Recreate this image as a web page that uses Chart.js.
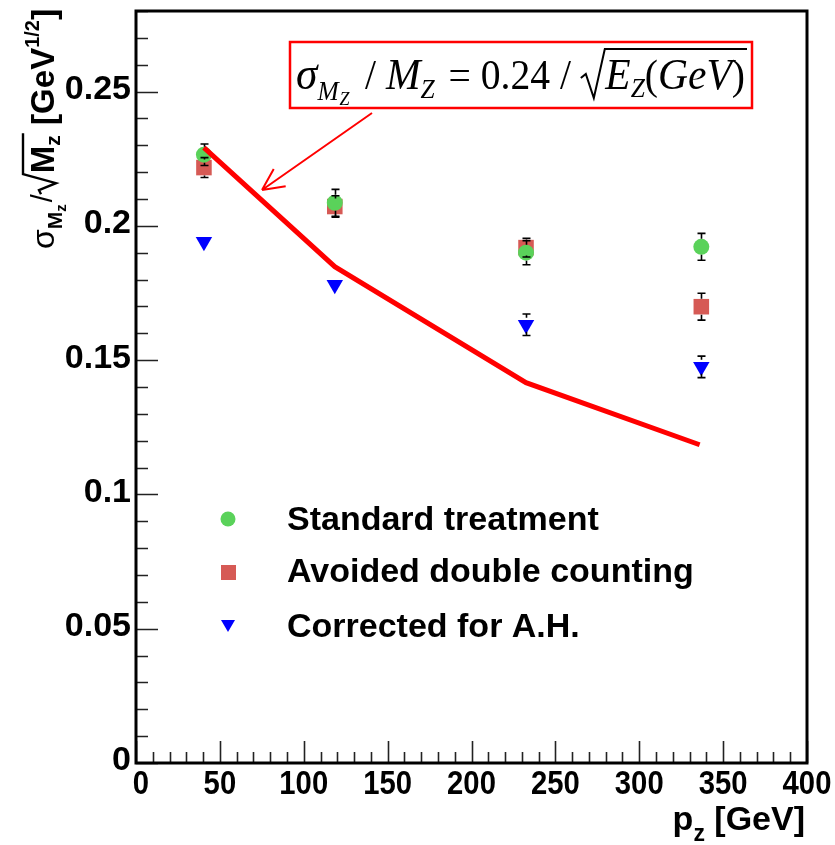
<!DOCTYPE html>
<html>
<head>
<meta charset="utf-8">
<script src="https://cdn.jsdelivr.net/npm/chart.js@4.4.0/dist/chart.umd.min.js"></script>
<style>
  html, body { margin: 0; padding: 0; background: #fff; }
  #wrap { width: 835px; height: 845px; }
</style>
</head>
<body>
<div id="wrap"><canvas id="plot" width="835" height="845"></canvas></div>
<script>
// measured points: mass resolution vs Z momentum
const pz = [40.5, 118.5, 232.5, 337];
const standard = [0.2265, 0.2086, 0.1900, 0.1922];
const standardErr = [0.004, 0.005, 0.0045, 0.005];
const avoided = [0.2217, 0.2072, 0.1919, 0.1699];
const avoidedErr = [0.0037, 0.004, 0.0035, 0.005];
const corrected = [0.1941, 0.1781, 0.1632, 0.1475];
const correctedErr = [0.002, 0.002, 0.004, 0.004];

// expected resolution curve
const curvePz = [40.5, 118.5, 232.5, 336];
const curveRes = [0.2291, 0.1848, 0.1416, 0.1185];

const xTicks = [0, 50, 100, 150, 200, 250, 300, 350, 400];
const yTicks = [0, 0.05, 0.1, 0.15, 0.2, 0.25];
const yTickLabels = ["0", "0.05", "0.1", "0.15", "0.2", "0.25"];
const seriesNames = ["Standard treatment", "Avoided double counting", "Corrected for A.H."];

const GREEN = "#5ad25a";
const RED = "#d65a55";
const BLUE = "#0000ff";
const SANS = "'Liberation Sans', Arial, sans-serif";
const SERIF = "'Liberation Serif', 'Times New Roman', serif";

const pts = (xs, ys) => xs.map((x, i) => ({ x, y: ys[i] }));

const errorSets = [
  { values: standard, errs: standardErr, gap: 8 },
  { values: avoided, errs: avoidedErr, gap: 8 },
  { values: corrected, errs: correctedErr, gap: 7 }
];

// ROOT-like frame with inward ticks, labels and titles
const framePlugin = {
  id: "frame",
  afterDraw(chart) {
    const { ctx, chartArea: a, scales: { x, y } } = chart;
    ctx.save();

    // ticks
    ctx.strokeStyle = "#222";
    ctx.lineWidth = 1.6;
    ctx.beginPath();
    for (let v = 0; v <= 400; v += 10) {
      const px = Math.round(x.getPixelForValue(v)) + 0.5;
      const len = v % 50 === 0 ? 22 : 11;
      ctx.moveTo(px, a.bottom);
      ctx.lineTo(px, a.bottom - len);
    }
    for (let k = 0; k <= 28; k++) {
      const py = Math.round(y.getPixelForValue(k / 100)) + 0.5;
      const len = k % 5 === 0 ? 22 : 12;
      ctx.moveTo(a.left, py);
      ctx.lineTo(a.left + len, py);
    }
    ctx.stroke();

    // frame
    ctx.strokeStyle = "#000";
    ctx.lineWidth = 3;
    ctx.strokeRect(a.left, a.top, a.right - a.left, a.bottom - a.top);

    // tick labels
    ctx.fillStyle = "#000";
    ctx.font = "bold 34px " + SANS;
    ctx.textAlign = "right";
    ctx.textBaseline = "middle";
    yTicks.forEach((v, i) => {
      ctx.fillText(yTickLabels[i], a.left - 5, y.getPixelForValue(v) - 2);
    });
    ctx.textAlign = "center";
    ctx.textBaseline = "top";
    xTicks.forEach(v => {
      const px = x.getPixelForValue(v) + (v === 0 ? 5 : 0);
      ctx.save();
      ctx.translate(px, a.bottom + 5);
      ctx.scale(0.86, 1);
      ctx.fillText(String(v), 0, 0);
      ctx.restore();
    });

    // x title
    ctx.textBaseline = "alphabetic";
    ctx.textAlign = "left";
    ctx.font = "bold 34px " + SANS;
    const rest = " [GeV]";
    const wRest = ctx.measureText(rest).width;
    const wp = ctx.measureText("p").width;
    ctx.font = "bold 23px " + SANS;
    const wz = ctx.measureText("z").width;
    let tx = 805 - wRest - wz - wp;
    ctx.font = "bold 34px " + SANS;
    ctx.fillText("p", tx, 830);
    ctx.font = "bold 23px " + SANS;
    ctx.fillText("z", tx + wp, 841);
    ctx.font = "bold 34px " + SANS;
    ctx.fillText(rest, tx + wp + wz, 830);

    // y title, rotated
    ctx.save();
    ctx.translate(54, 249);
    ctx.rotate(-Math.PI / 2);
    let cx = 0;
    const put = (t, font, dy) => {
      ctx.font = font;
      ctx.fillText(t, cx, dy);
      cx += ctx.measureText(t).width;
    };
    put("\u03c3", "32px " + SANS, 0);
    put("M", "bold 21px " + SANS, 8);
    put("z", "bold 15px " + SANS, 12);
    cx += 2;
    put("/", "29px " + SANS, -2);
    // radical sign
    const r0 = cx;
    ctx.font = "bold 33px " + SANS;
    const wM = ctx.measureText("M").width;
    ctx.font = "bold 21px " + SANS;
    const wMz = ctx.measureText("z").width;
    ctx.lineWidth = 2.4;
    ctx.strokeStyle = "#000";
    ctx.beginPath();
    ctx.moveTo(r0, -13);
    ctx.lineTo(r0 + 4, -15);
    ctx.lineTo(r0 + 11, 2);
    ctx.lineTo(r0 + 20, -31);
    ctx.lineTo(r0 + 23 + wM + wMz, -31);
    ctx.stroke();
    cx = r0 + 21;
    put("M", "bold 33px " + SANS, 0);
    put("z", "bold 21px " + SANS, 6);
    cx += 10;
    put("[", "bold 34px " + SANS, 1);
    put("GeV", "bold 33px " + SANS, 0);
    put("1/2", "bold 20px " + SANS, -15);
    put("]", "bold 34px " + SANS, 1);
    ctx.restore();

    // legend
    const legendY = [521, 573, 628];
    ctx.fillStyle = GREEN;
    ctx.beginPath(); ctx.arc(228, 519, 7.5, 0, Math.PI * 2); ctx.fill();
    ctx.fillStyle = RED;
    ctx.fillRect(221, 565, 15, 15);
    ctx.fillStyle = BLUE;
    ctx.beginPath();
    ctx.moveTo(221, 620); ctx.lineTo(235, 620); ctx.lineTo(228, 632); ctx.closePath();
    ctx.fill();
    ctx.fillStyle = "#000";
    ctx.font = "bold 34px " + SANS;
    ctx.textBaseline = "middle";
    seriesNames.forEach((n, i) => ctx.fillText(n, 287, legendY[i]));

    // formula box
    ctx.strokeStyle = "#ff0000";
    ctx.lineWidth = 2.5;
    ctx.strokeRect(290, 42, 462, 66);

    // arrow
    ctx.lineWidth = 2;
    ctx.beginPath();
    ctx.moveTo(372, 113);
    ctx.lineTo(262, 190);
    const ang = Math.atan2(190 - 113, 262 - 372);
    for (const s of [-1, 1]) {
      ctx.moveTo(262, 190);
      ctx.lineTo(262 - 24 * Math.cos(ang + s * 0.45), 190 - 24 * Math.sin(ang + s * 0.45));
    }
    ctx.stroke();

    // formula text
    ctx.fillStyle = "#000";
    ctx.textBaseline = "alphabetic";
    const base = 89;
    const parts = [
      ["\u03c3", "italic 46px " + SERIF, 0, 0],
      ["M", "italic 27px " + SERIF, 11, 1],
      ["Z", "italic 19px " + SERIF, 16, 6],
      [" / ", "42px " + SERIF, 0, 0],
      ["M", "italic 44px " + SERIF, 0, 0],
      ["Z", "italic 27px " + SERIF, 9, 4],
      [" = 0.24 / ", "42px " + SERIF, 0, 0],
      ["SQRT", "", 0, 0],
      ["E", "italic 44px " + SERIF, 0, 0],
      ["Z", "italic 27px " + SERIF, 8, 0],
      ["(", "42px " + SERIF, 0, 0],
      ["GeV", "italic 44px " + SERIF, 0, 0],
      [")", "42px " + SERIF, 0, 0]
    ];
    const sqrtW = 26;
    let total = 0;
    parts.forEach(p => {
      if (p[0] === "SQRT") { total += sqrtW; return; }
      ctx.font = p[1];
      total += ctx.measureText(p[0]).width + p[3];
    });
    const sx = (745 - 296) / total;
    ctx.save();
    ctx.translate(296, 0);
    ctx.scale(sx, 1);
    let fx = 0, sqrtStart = 0;
    parts.forEach(p => {
      if (p[0] === "SQRT") { sqrtStart = fx; fx += sqrtW; return; }
      ctx.font = p[1];
      ctx.fillText(p[0], fx, base + p[2]);
      fx += ctx.measureText(p[0]).width + p[3];
    });
    ctx.restore();
    ctx.strokeStyle = "#000";
    ctx.lineWidth = 2;
    ctx.beginPath();
    const s0 = 296 + sqrtStart * sx;
    ctx.moveTo(s0, 78);
    ctx.lineTo(s0 + 5, 74);
    ctx.lineTo(s0 + 13, 98);
    ctx.lineTo(s0 + 24, 49);
    ctx.lineTo(296 + fx * sx + 2, 49);
    ctx.stroke();

    ctx.restore();
  }
};

// vertical error bars with small caps, gapped around the marker
const errorBarPlugin = {
  id: "errorBars",
  afterDatasetsDraw(chart) {
    const { ctx, scales: { x, y } } = chart;
    ctx.save();
    ctx.strokeStyle = "#000";
    ctx.lineWidth = 1.6;
    errorSets.forEach(set => {
      set.values.forEach((v, i) => {
        const px = Math.round(x.getPixelForValue(pz[i])) + 0.5;
        const pc = y.getPixelForValue(v);
        const top = y.getPixelForValue(v + set.errs[i]);
        const bot = y.getPixelForValue(v - set.errs[i]);
        ctx.beginPath();
        if (pc - top > set.gap) {
          ctx.moveTo(px, top); ctx.lineTo(px, pc - set.gap);
          ctx.moveTo(px - 4, top); ctx.lineTo(px + 4, top);
        }
        if (bot - pc > set.gap) {
          ctx.moveTo(px, pc + set.gap); ctx.lineTo(px, bot);
          ctx.moveTo(px - 4, bot); ctx.lineTo(px + 4, bot);
        }
        ctx.stroke();
      });
    });
    ctx.restore();
  }
};

new Chart(document.getElementById("plot"), {
  type: "scatter",
  data: {
    datasets: [
      {
        label: "expected",
        type: "line",
        data: pts(curvePz, curveRes),
        borderColor: "#ff0000",
        borderWidth: 5,
        pointRadius: 0,
        fill: false,
        tension: 0
      },
      {
        label: seriesNames[0],
        data: pts(pz, standard),
        pointStyle: "circle",
        pointRadius: 8,
        backgroundColor: GREEN,
        borderWidth: 0
      },
      {
        label: seriesNames[1],
        data: pts(pz, avoided),
        pointStyle: "rect",
        pointRadius: 11,
        backgroundColor: RED,
        borderWidth: 0
      },
      {
        label: seriesNames[2],
        data: pts(pz, corrected),
        pointStyle: "triangle",
        rotation: 180,
        pointRadius: 9.5,
        backgroundColor: BLUE,
        borderWidth: 0
      }
    ]
  },
  options: {
    responsive: false,
    animation: false,
    devicePixelRatio: 1,
    layout: { padding: { left: 136, top: 11, right: 28, bottom: 82 } },
    plugins: { legend: { display: false }, tooltip: { enabled: false } },
    scales: {
      x: { type: "linear", min: 0, max: 400, display: false },
      y: { type: "linear", min: 0, max: 0.28, display: false }
    }
  },
  plugins: [errorBarPlugin, framePlugin]
});
</script>
</body>
</html>
